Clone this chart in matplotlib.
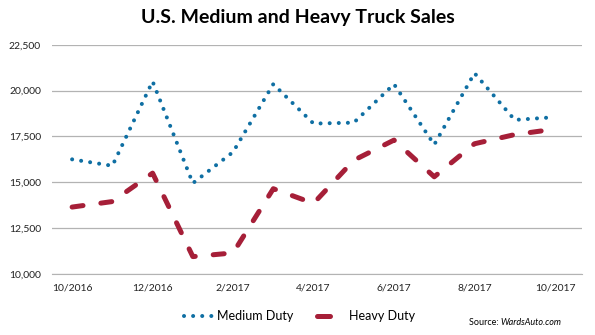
import matplotlib
matplotlib.use("Agg")
import matplotlib.pyplot as plt
from matplotlib.lines import Line2D
from matplotlib.ticker import FuncFormatter

months = ["10/2016", "11/2016", "12/2016", "1/2017", "2/2017", "3/2017", "4/2017",
          "5/2017", "6/2017", "7/2017", "8/2017", "9/2017", "10/2017"]
medium_duty = [16250, 15900, 20500, 14950, 16650, 20350, 18200,
               18250, 20350, 17050, 20950, 18400, 18550]
heavy_duty = [13650, 13950, 15500, 10950, 11150, 14650, 13850,
              16200, 17300, 15300, 17100, 17600, 17900]
y_ticks = [10000, 12500, 15000, 17500, 20000, 22500]

FONT = "Lato"
BLUE = "#0F6FA3"
RED = "#A61F38"
GRID = "#B3B3B3"
W, H = 595, 335

fig = plt.figure(figsize=(5.95, 3.35), dpi=100)
ax = fig.add_axes([0.0874, 0.182, 0.978 - 0.0874, 0.8666 - 0.182])

medium_style = dict(color=BLUE, lw=2.9, linestyle=(0, (0.01, 2.25)), dash_capstyle="round")
heavy_style = dict(color=RED, lw=3.6, dash_capstyle="round", solid_capstyle="round",
                   solid_joinstyle="round")

x = list(range(len(months)))
ax.plot(x, medium_duty, **medium_style)
ax.plot(x, heavy_duty, linestyle=(0, (2.2, 3.6)), **heavy_style)

ax.set_xlim(-0.5, 12.67)
ax.set_ylim(10000, 22500)
ax.set_yticks(y_ticks)
ax.yaxis.set_major_formatter(FuncFormatter(lambda v, p: f"{int(v):,}"))
ax.set_xticks(x[::2])
ax.set_xticklabels(months[::2])
ax.grid(axis="y", color=GRID, lw=0.9)
ax.set_axisbelow(True)
for s in ["top", "right", "left"]:
    ax.spines[s].set_visible(False)
ax.spines["bottom"].set_color(GRID)
ax.tick_params(axis="both", length=0, labelsize=7.5, colors="#222222")
ax.tick_params(axis="x", pad=7)
ax.tick_params(axis="y", pad=8)
for lab in ax.get_xticklabels() + ax.get_yticklabels():
    lab.set_fontfamily(FONT)

fig.text(0.5, 0.947, "U.S. Medium and Heavy Truck Sales", ha="center", va="center",
         fontsize=14, fontweight="bold", family=FONT)

# legend drawn in figure pixel space
ly = 1 - 315.7 / H
fig.add_artist(Line2D([184 / W, 213 / W], [ly, ly], transform=fig.transFigure, **medium_style))
fig.text(217 / W, ly, "Medium Duty", ha="left", va="center", fontsize=9, family=FONT)
fig.add_artist(Line2D([316.5 / W, 329.5 / W], [ly, ly], transform=fig.transFigure,
                      linestyle="-", **heavy_style))
fig.text(349 / W, ly, "Heavy Duty", ha="left", va="center", fontsize=9, family=FONT)

src = fig.text(469 / W, 1 - 322.7 / H, "Source: ", ha="left", va="center",
               fontsize=6.5, family=FONT)
fig.add_artist(plt.Annotation("WardsAuto.com", xy=(1, 0.5), xycoords=src, va="center",
                              ha="left", fontsize=6.5, family=FONT, style="italic"))

fig.savefig("out.png", dpi=100)
